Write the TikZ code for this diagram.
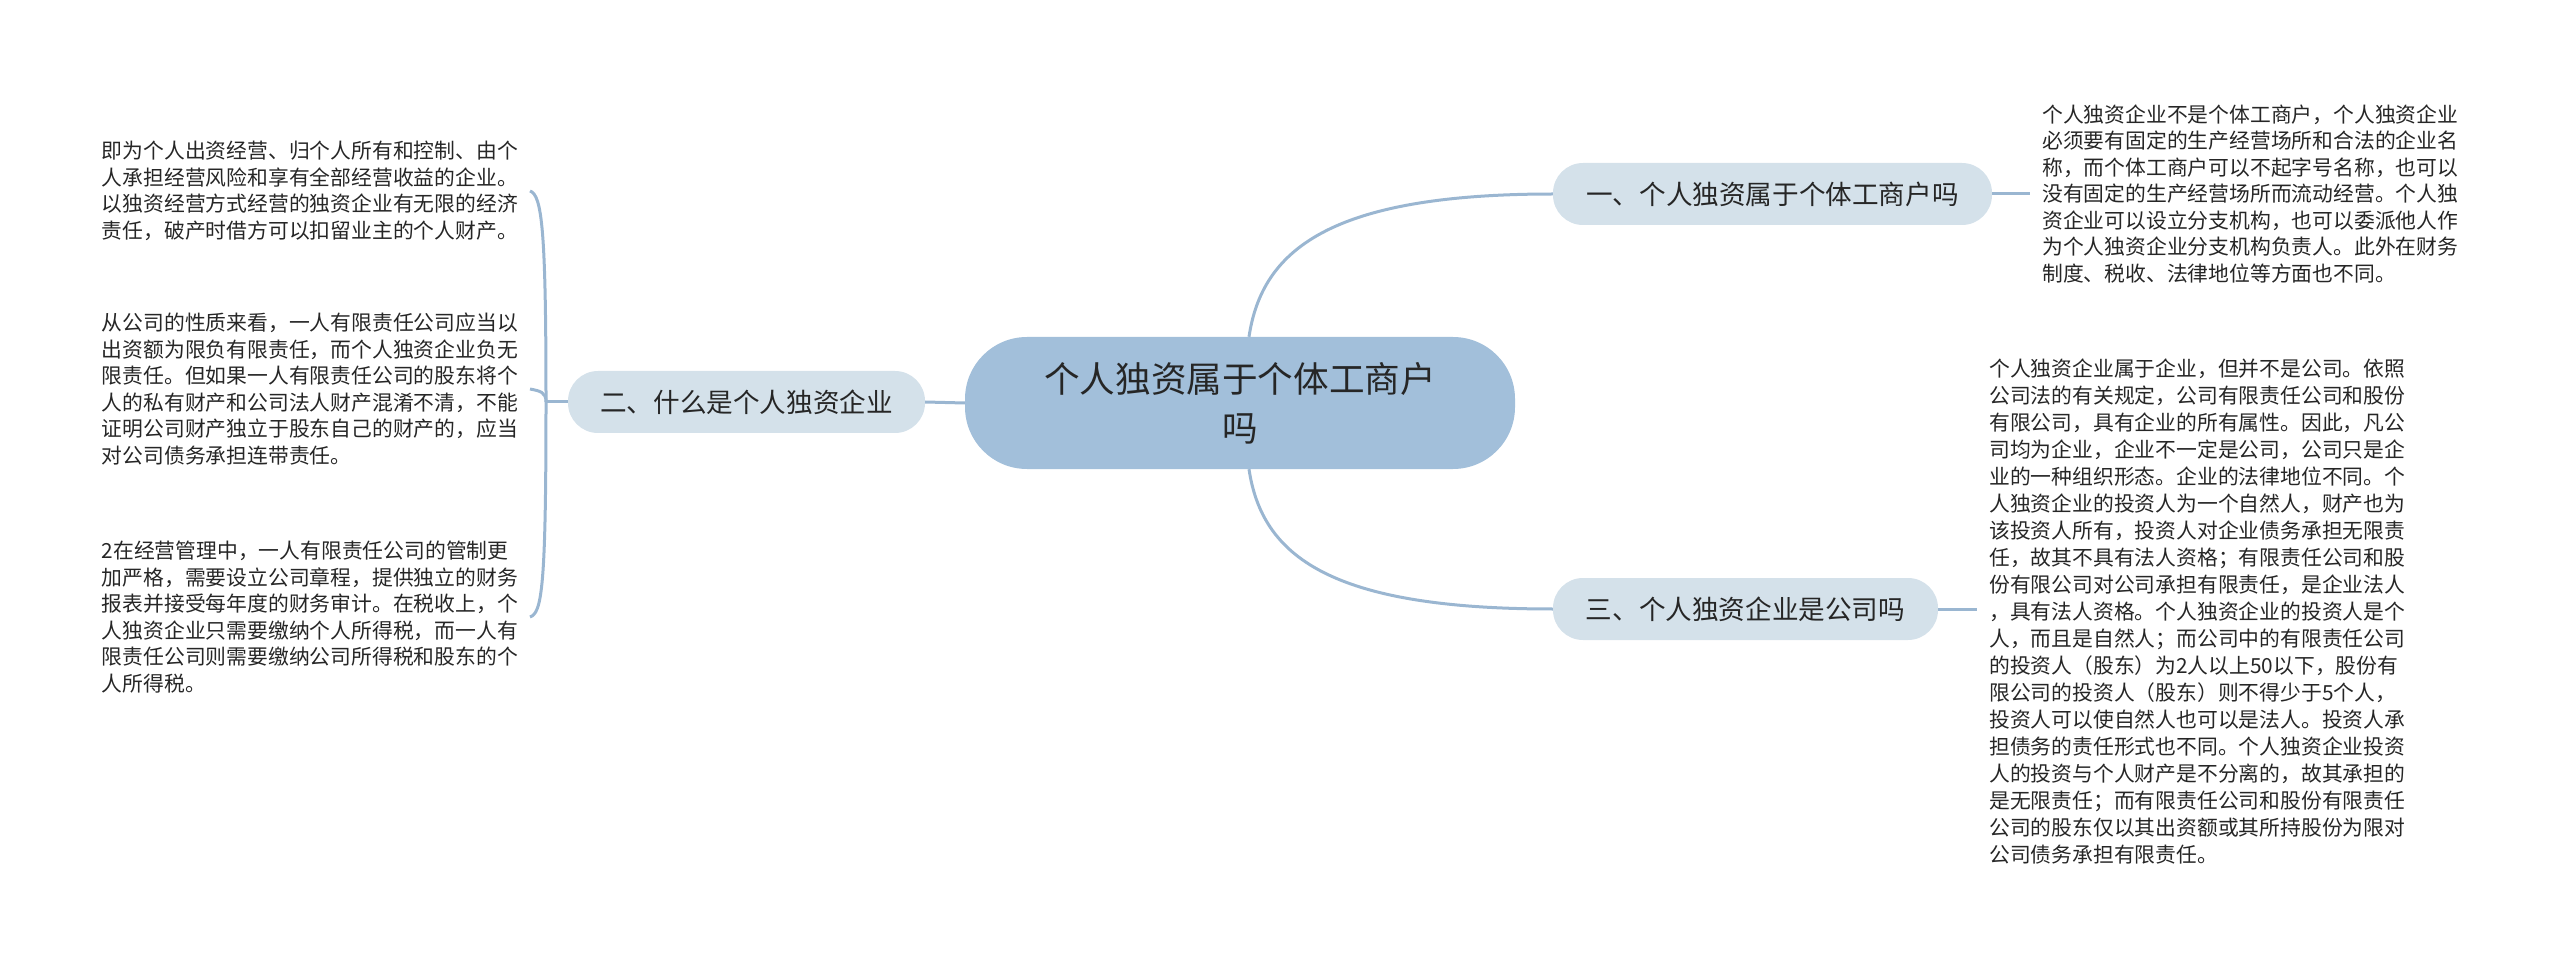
\documentclass[tikz,border=0pt]{standalone}
\usepackage{fontspec}
\setmainfont{Noto Sans CJK SC}
\definecolor{linec}{HTML}{9AB6D1}
\definecolor{centerc}{HTML}{A2BFDA}
\definecolor{branchc}{HTML}{D4E1EA}
\definecolor{txt}{HTML}{262626}
\begin{document}
\begin{tikzpicture}[x=1pt,y=-1pt,
 conn/.style={draw=linec,line width=3pt},
 centernode/.style={fill=centerc,rounded corners=62pt,minimum width=550pt,minimum height=132pt,inner sep=0pt,align=center,font=\fontsize{35.6}{49}\selectfont,text=txt},
 branch/.style={fill=branchc,rounded corners=30pt,minimum height=62pt,inner sep=0pt,font=\fontsize{26.6}{32}\selectfont,text=txt},
 leaf/.style={inner xsep=12pt,inner ysep=0pt,align=left,font=\fontsize{20.8}{26.5}\selectfont,text=txt}]
\useasboundingbox (0,0) rectangle (2560,965);
\node[centernode] (c) at (1240,403) {个人独资属于个体工商户\\吗};
\node[branch,minimum width=439pt] (b1) at (1772.5,194) {一、个人独资属于个体工商户吗};
\node[branch,minimum width=357pt] (b2) at (746.5,402) {二、什么是个人独资企业};
\node[branch,minimum width=385pt] (b3) at (1745.5,609) {三、个人独资企业是公司吗};

\node[leaf,anchor=east] (tA) at (530,191) {即为个人出资经营、归个人所有和控制、由个\\人承担经营风险和享有全部经营收益的企业。\\以独资经营方式经营的独资企业有无限的经济\\责任，破产时借方可以扣留业主的个人财产。};
\node[leaf,anchor=east] (tB) at (530,389) {从公司的性质来看，一人有限责任公司应当以\\出资额为限负有限责任，而个人独资企业负无\\限责任。但如果一人有限责任公司的股东将个\\人的私有财产和公司法人财产混淆不清，不能\\证明公司财产独立于股东自己的财产的，应当\\对公司债务承担连带责任。};
\node[leaf,anchor=east] (tC) at (530,617) {2在经营管理中，一人有限责任公司的管制更\\加严格，需要设立公司章程，提供独立的财务\\报表并接受每年度的财务审计。在税收上，个\\人独资企业只需要缴纳个人所得税，而一人有\\限责任公司则需要缴纳公司所得税和股东的个\\人所得税。};
\node[leaf,anchor=west] (t1) at (2030,194) {个人独资企业不是个体工商户，个人独资企业\\必须要有固定的生产经营场所和合法的企业名\\称，而个体工商户可以不起字号名称，也可以\\没有固定的生产经营场所而流动经营。个人独\\资企业可以设立分支机构，也可以委派他人作\\为个人独资企业分支机构负责人。此外在财务\\制度、税收、法律地位等方面也不同。};
\node[leaf,anchor=west,font=\fontsize{20.8}{27}\selectfont] (t3) at (1977,612) {个人独资企业属于企业，但并不是公司。依照\\公司法的有关规定，公司有限责任公司和股份\\有限公司，具有企业的所有属性。因此，凡公\\司均为企业，企业不一定是公司，公司只是企\\业的一种组织形态。企业的法律地位不同。个\\人独资企业的投资人为一个自然人，财产也为\\该投资人所有，投资人对企业债务承担无限责\\任，故其不具有法人资格；有限责任公司和股\\份有限公司对公司承担有限责任，是企业法人\\，具有法人资格。个人独资企业的投资人是个\\人，而且是自然人；而公司中的有限责任公司\\的投资人（股东）为2人以上50以下，股份有\\限公司的投资人（股东）则不得少于5个人，\\投资人可以使自然人也可以是法人。投资人承\\担债务的责任形式也不同。个人独资企业投资\\人的投资与个人财产是不分离的，故其承担的\\是无限责任；而有限责任公司和股份有限责任\\公司的股东仅以其出资额或其所持股份为限对\\公司债务承担有限责任。};

\coordinate (j) at (546,402);
\draw[conn] (b2.west) -- (j);
\draw[conn] (j) .. controls +(0,-172) and +(12,4) .. (tA.east);
\draw[conn] (j) .. controls +(0,-10) and +(10,2) .. (tB.east);
\draw[conn] (j) .. controls +(0,185) and +(12,-4) .. (tC.east);
\draw[conn] (c.west) -- (b2.east);
\draw[conn] ([xshift=9pt]c.north) .. controls +(13,-87) and +(-223,0) .. (b1.west);
\draw[conn] ([xshift=9pt]c.south) .. controls +(13,87) and +(-223,0) .. (b3.west);
\draw[conn] (b1.east) -- (t1.west);
\draw[conn] (b3.east) -- (b3.east -| t3.west);
\end{tikzpicture}
\end{document}
